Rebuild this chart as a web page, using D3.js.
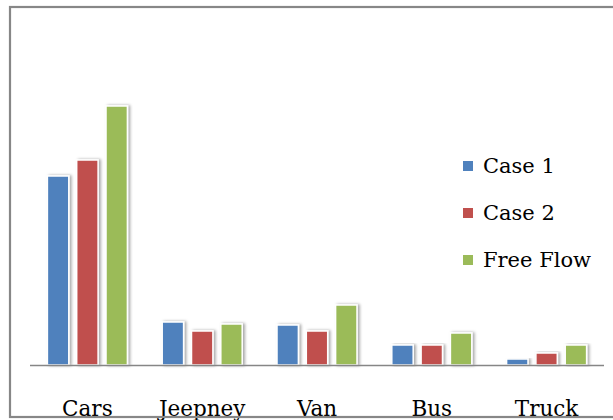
<!DOCTYPE html>
<html>
<head>
<meta charset="utf-8">
<script src="https://cdn.jsdelivr.net/npm/d3@7"></script>
<style>
  html, body { margin: 0; padding: 0; background: #fff; }
  svg { display: block; }
</style>
</head>
<body>
<svg id="chart" width="613" height="420"></svg>
<script>
// Vehicle classes and the three scenarios compared
const categories = ["Cars", "Jeepney", "Van", "Bus", "Truck"];
const seriesNames = ["Case 1", "Case 2", "Free Flow"];
const case1 = [189, 43, 40, 20, 6];
const case2 = [205, 34, 34, 20, 12];
const freeFlow = [259, 41, 60, 32, 20];
const seriesColors = ["#4F81BD", "#C0504D", "#9BBB59"];

const seriesValues = [case1, case2, freeFlow];
const rows = categories.map((c, i) => ({
  category: c,
  values: seriesNames.map((s, j) => ({ series: s, value: seriesValues[j][i], color: seriesColors[j] }))
}));

const svg = d3.select("#chart");

// soft shadow behind each bar
const defs = svg.append("defs");
const f = defs.append("filter").attr("id", "barShadow")
  .attr("x", "-40%").attr("y", "-10%").attr("width", "180%").attr("height", "120%");
f.append("feDropShadow").attr("dx", 2).attr("dy", 0).attr("stdDeviation", 1.8)
  .attr("flood-color", "#000").attr("flood-opacity", 0.35);

const plotLeft = 30, plotRight = 604, baseY = 365;

const x0 = d3.scaleBand().domain(categories).range([plotLeft, plotRight]);
const x1 = d3.scaleBand().domain(seriesNames).range([x0.bandwidth() / 2 - 40, x0.bandwidth() / 2 + 40]).paddingInner(0.27);
const y = d3.scaleLinear().domain([0, 300]).range([baseY, baseY - 300]);

// bars
const groups = svg.append("g").selectAll("g").data(rows).join("g")
  .attr("transform", d => `translate(${x0(d.category)},0)`);

groups.selectAll("rect").data(d => d.values).join("rect")
  .attr("x", d => x1(d.series))
  .attr("y", d => y(d.value))
  .attr("width", x1.bandwidth())
  .attr("height", d => y(0) - y(d.value))
  .attr("fill", d => d.color)
  .attr("stroke", "#fff")
  .attr("stroke-width", 1.5)
  .attr("filter", "url(#barShadow)");

// category axis line
svg.append("line")
  .attr("x1", plotLeft).attr("x2", plotRight)
  .attr("y1", baseY + 0.5).attr("y2", baseY + 0.5)
  .attr("stroke", "#868686").attr("stroke-width", 1.6);

// category labels
svg.append("g").selectAll("text").data(categories).join("text")
  .attr("x", d => x0(d) + x0.bandwidth() / 2)
  .attr("y", 416)
  .attr("text-anchor", "middle")
  .attr("font-family", "'DejaVu Serif', serif")
  .attr("font-size", 21.5)
  .attr("fill", "#000")
  .text(d => d);

// legend
const legend = svg.append("g").selectAll("g").data(seriesNames).join("g")
  .attr("transform", (d, i) => `translate(463,${173 + i * 47})`);
legend.append("rect")
  .attr("x", 0).attr("y", -12).attr("width", 10).attr("height", 10)
  .attr("fill", (d, i) => seriesColors[i]);
legend.append("text")
  .attr("x", 20).attr("y", 0)
  .attr("font-family", "'DejaVu Serif', serif")
  .attr("font-size", 21)
  .attr("fill", "#000")
  .text(d => d);

// chart frame
svg.append("rect")
  .attr("x", 10).attr("y", 7).attr("width", 620).attr("height", 410)
  .attr("fill", "none").attr("stroke", "#878787").attr("stroke-width", 2.2);
</script>
</body>
</html>
